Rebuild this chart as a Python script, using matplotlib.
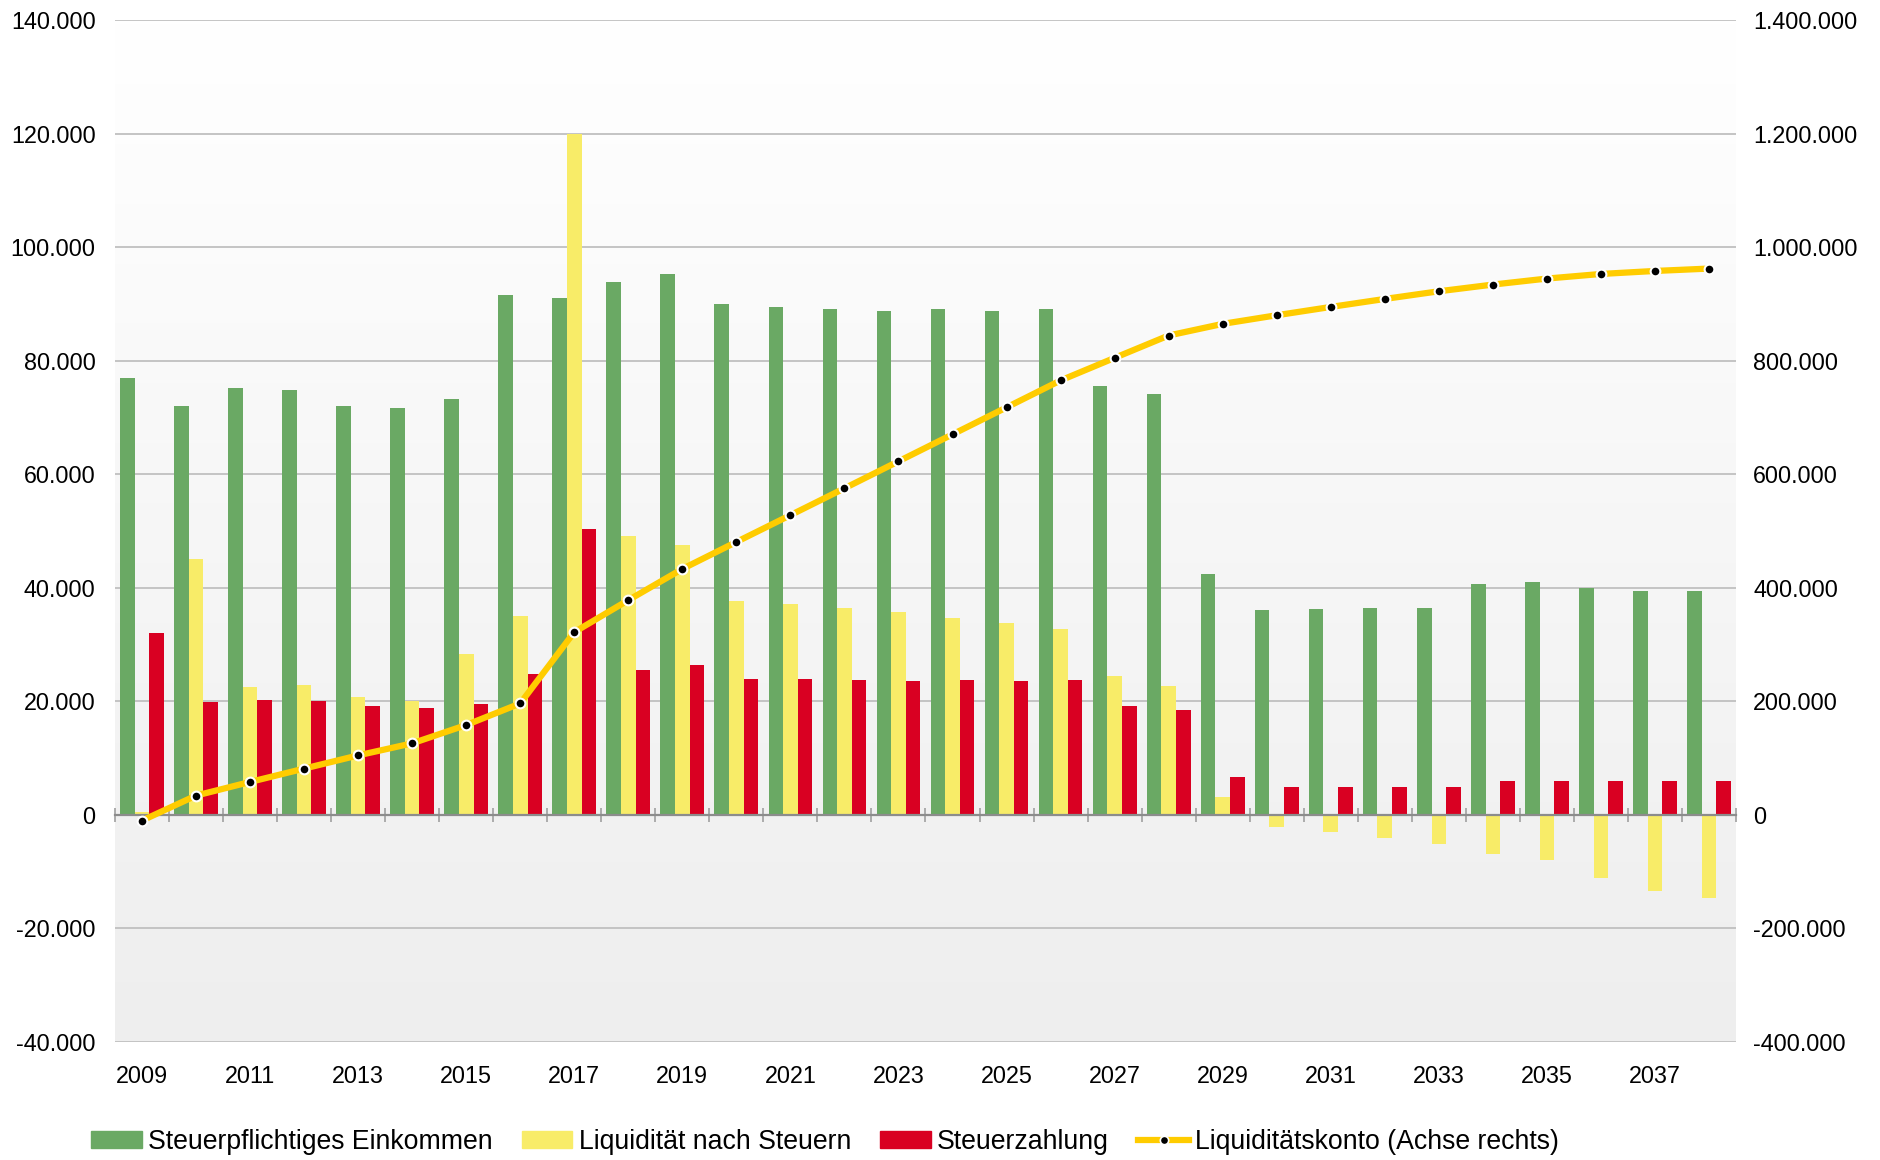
import numpy as np
import matplotlib
matplotlib.use("Agg")
import matplotlib.pyplot as plt
from matplotlib.lines import Line2D
from matplotlib.patches import Patch

plt.rcParams['font.family'] = ['Liberation Sans', 'DejaVu Sans']

# Daten
jahre = list(range(2009, 2039))

einkommen = [77000, 72000, 75100, 74800, 72000, 71600, 73200, 91600, 91100, 93800,
             95300, 89900, 89500, 89100, 88700, 89100, 88700, 89100, 75500, 74100,
             42400, 36100, 36300, 36500, 36500, 40700, 41000, 40000, 39500, 39500]

liquiditaet = [500, 45100, 22600, 22800, 20800, 20100, 28400, 35100, 120000, 49100,
               47500, 37700, 37200, 36500, 35800, 34700, 33800, 32800, 24500, 22700,
               3200, -2100, -3100, -4100, -5200, -6900, -8000, -11200, -13400, -14700]

steuer = [32000, 19900, 20300, 20100, 19100, 18900, 19600, 24900, 50400, 25600,
          26400, 24000, 24000, 23800, 23600, 23800, 23600, 23800, 19100, 18500,
          6700, 5000, 5000, 5000, 5000, 5900, 5900, 5900, 6000, 6000]

konto = [-10000, 34000, 58000, 81500, 104800, 126000, 158300, 196300, 321900, 378200,
         433200, 480700, 527900, 575200, 622700, 670200, 717700, 765200, 804900, 844300,
         864800, 880000, 894600, 908700, 922200, 934000, 944600, 952700, 958000, 962200]

GREEN = '#6aa964'
YELLOW = '#f8ec68'
RED = '#d90022'
LINE = '#ffcc00'
FS = 16.8
FS_LEG = 19.2


def de_fmt(v):
    return f"{v:,.0f}".replace(',', '.')


fig = plt.figure(figsize=(18.81, 11.60), dpi=100)
pos = [115/1881, 1 - 1042/1160, (1736 - 115)/1881, (1042 - 20)/1160]

# Hintergrund mit Verlauf
bg = fig.add_axes(pos, zorder=0)
grad = np.linspace(0, 1, 256).reshape(-1, 1)
bg.imshow(grad, cmap=matplotlib.colors.LinearSegmentedColormap.from_list('g', ['#ffffff', '#eeeeee']),
          aspect='auto', extent=[0, 1, 0, 1])
bg.set_axis_off()

ax = fig.add_axes(pos, zorder=1)
ax.patch.set_alpha(0)
ax2 = ax.twinx()
ax2.patch.set_alpha(0)

x = np.arange(len(jahre))
w = 0.27
ax.bar(x - w, einkommen, w, color=GREEN, zorder=3)
ax.bar(x, liquiditaet, w, color=YELLOW, zorder=3)
ax.bar(x + w, steuer, w, color=RED, zorder=3)

ax2.plot(x, konto, color=LINE, lw=4.5, marker='o', ms=7, mfc='black', mec='white', mew=1.5,
         solid_joinstyle='round', zorder=4)

ax.set_xlim(-0.5, len(jahre) - 0.5)
ax.set_ylim(-40000, 140000)
ax2.set_ylim(-400000, 1400000)

yt = np.arange(-40000, 140001, 20000)
ax.set_yticks(yt, [de_fmt(v) for v in yt])
yt2 = np.arange(-400000, 1400001, 200000)
ax2.set_yticks(yt2, [de_fmt(v) for v in yt2])
ax.tick_params(axis='y', length=0, pad=14, labelsize=FS)
ax2.tick_params(axis='y', length=0, pad=12.5, labelsize=FS)

ax.set_axisbelow(True)
ax.yaxis.grid(True, color='#c0c0c0', lw=1.3)

for s in ['left', 'right', 'top']:
    ax.spines[s].set_visible(False)
for s in ax2.spines.values():
    s.set_visible(False)

# Nulllinie mit Teilstrichen an den Kategoriegrenzen
ax.spines['bottom'].set_position(('data', 0))
ax.spines['bottom'].set_color('#8c8c8c')
ax.spines['bottom'].set_linewidth(1.6)
ax.spines['bottom'].set_zorder(3.5)
ax.set_xticks(np.arange(-0.5, len(jahre)), [''] * (len(jahre) + 1))
ax.tick_params(axis='x', direction='inout', length=10, width=1.2, color='#a0a0a0')

# Jahresbeschriftung unten
sec = ax.secondary_xaxis('bottom')
sec.set_xticks(x[::2], [str(j) for j in jahre[::2]])
sec.tick_params(length=0, pad=16.5, labelsize=FS)
sec.spines['bottom'].set_visible(False)

handles = [
    Patch(color=GREEN, label='Steuerpflichtiges Einkommen'),
    Patch(color=YELLOW, label='Liquidität nach Steuern'),
    Patch(color=RED, label='Steuerzahlung'),
    Line2D([], [], color=LINE, lw=4.5, marker='o', ms=6, mfc='black', mec='white', mew=1.2,
           label='Liquiditätskonto (Achse rechts)'),
]
fig.legend(handles=handles, loc='center', bbox_to_anchor=(0.4386, 0.0155), ncol=4,
           frameon=False, fontsize=FS_LEG, handlelength=1.9, handleheight=0.64,
           handletextpad=0.23, columnspacing=1.1, borderaxespad=0, borderpad=0)

fig.savefig('out.png', dpi=100)
